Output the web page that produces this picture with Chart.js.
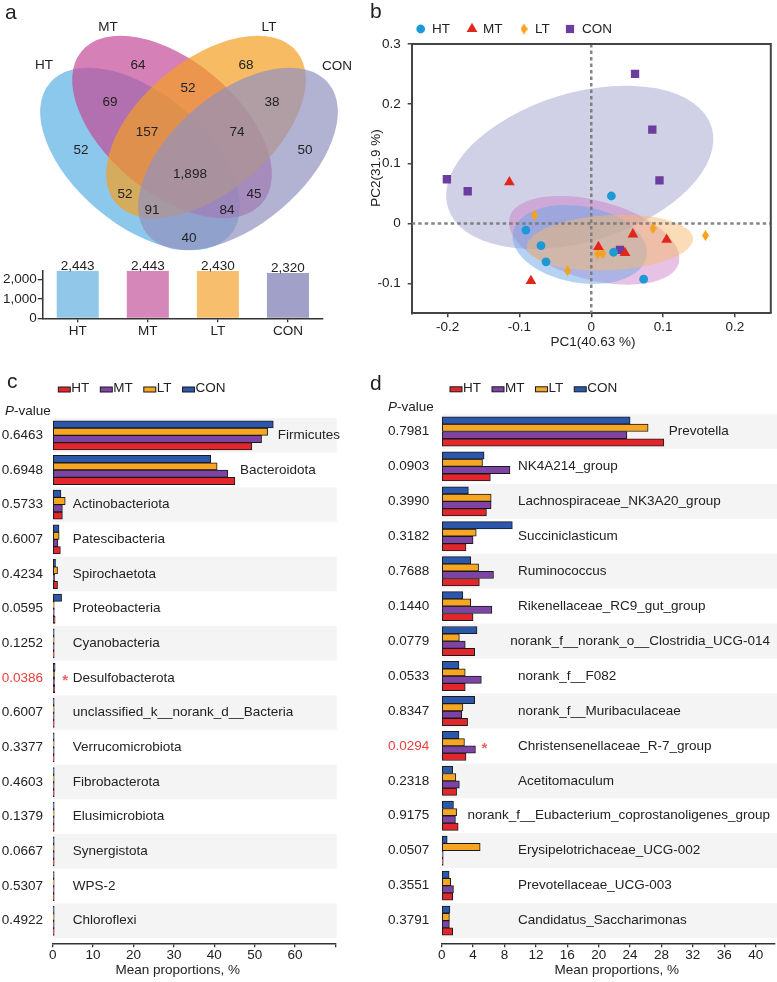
<!DOCTYPE html>
<html lang="en">
<head>
<meta charset="UTF-8">
<title>OTU Venn, PCoA and taxa comparison</title>
<script src="https://cdn.jsdelivr.net/npm/chart.js"></script>
<style>
  html, body { margin: 0; padding: 0; background: #fff; }
  body { position: relative; width: 777px; height: 982px; overflow: hidden; }
  canvas { position: absolute; }
</style>
</head>
<body>
<canvas id="vennChart" width="390" height="258" style="left:0;top:0"></canvas>
<canvas id="totalChart" width="390" height="85" style="left:0;top:255px"></canvas>
<canvas id="pcoaChart" width="412" height="355" style="left:365px;top:0"></canvas>
<canvas id="phylumChart" width="390" height="612" style="left:0;top:370px"></canvas>
<canvas id="genusChart" width="412" height="612" style="left:365px;top:370px"></canvas>

<script>
// ---- data ----
const groups = ['HT', 'MT', 'LT', 'CON'];

// a: OTU Venn regions (HT, MT, LT, CON, pairs, triples, all four)
const vennRegions = ['HT', 'MT', 'LT', 'CON', 'HT-MT', 'MT-LT', 'LT-CON', 'HT-LT', 'MT-CON', 'HT-CON',
                     'HT-MT-LT', 'MT-LT-CON', 'HT-LT-CON', 'HT-MT-CON', 'all'];
const vennCounts = [52, 64, 68, 50, 69, 52, 38, 52, 45, 40, 157, 74, 91, 84, 1898];
const otuTotals = [2443, 2443, 2430, 2320];
const otuTicks = [0, 1000, 2000];

// b: PCoA scores
const pc1HT = [0.028, -0.091, -0.070, -0.063, 0.031, 0.073];
const pc2HT = [0.046, -0.011, -0.037, -0.064, -0.048, -0.093];
const pc1MT = [-0.114, -0.084, 0.010, 0.047, 0.058, 0.105];
const pc2MT = [0.069, -0.096, -0.039, -0.049, -0.018, -0.027];
const pc1LT = [-0.079, -0.033, 0.009, 0.016, 0.086, 0.159];
const pc2LT = [0.014, -0.079, -0.051, -0.050, -0.008, -0.020];
const pc1CON = [0.061, 0.085, 0.095, -0.201, -0.172, 0.040];
const pc2CON = [0.250, 0.157, 0.072, 0.074, 0.054, -0.044];
const pc1Ticks = [-0.2, -0.1, 0, 0.1, 0.2];
const pc2Ticks = [-0.1, 0, 0.1, 0.2, 0.3];

// c: phylum level
const phyla = ['Firmicutes', 'Bacteroidota', 'Actinobacteriota', 'Patescibacteria', 'Spirochaetota',
  'Proteobacteria', 'Cyanobacteria', 'Desulfobacterota', 'unclassified_k__norank_d__Bacteria',
  'Verrucomicrobiota', 'Fibrobacterota', 'Elusimicrobiota', 'Synergistota', 'WPS-2', 'Chloroflexi'];
const phylumP = [0.6463, 0.6948, 0.5733, 0.6007, 0.4234, 0.0595, 0.1252, 0.0386, 0.6007, 0.3377,
  0.4603, 0.1379, 0.0667, 0.5307, 0.4922];
const phylumHT = [49.3, 45.1, 2.4, 1.9, 1.2, 0.6, 0.3, 0.5, 0.35, 0.2, 0.15, 0.15, 0.12, 0.1, 0.1];
const phylumMT = [51.7, 43.3, 2.4, 1.3, 0.5, 0.4, 0.35, 0.45, 0.3, 0.2, 0.15, 0.12, 0.1, 0.1, 0.1];
const phylumLT = [53.2, 40.7, 3.1, 1.6, 1.2, 0.3, 0.3, 0.5, 0.35, 0.2, 0.15, 0.15, 0.12, 0.1, 0.1];
const phylumCON = [54.6, 39.1, 2.05, 1.56, 0.7, 2.2, 0.2, 0.6, 0.3, 0.2, 0.2, 0.15, 0.1, 0.1, 0.1];
const phylumTicks = [0, 10, 20, 30, 40, 50, 60, 70];

// d: genus level
const genera = ['Prevotella', 'NK4A214_group', 'Lachnospiraceae_NK3A20_group', 'Succiniclasticum',
  'Ruminococcus', 'Rikenellaceae_RC9_gut_group', 'norank_f__norank_o__Clostridia_UCG-014',
  'norank_f__F082', 'norank_f__Muribaculaceae', 'Christensenellaceae_R-7_group', 'Acetitomaculum',
  'norank_f__Eubacterium_coprostanoligenes_group', 'Erysipelotrichaceae_UCG-002',
  'Prevotellaceae_UCG-003', 'Candidatus_Saccharimonas'];
const genusP = [0.7981, 0.0903, 0.3990, 0.3182, 0.7688, 0.1440, 0.0779, 0.0533, 0.8347, 0.0294,
  0.2318, 0.9175, 0.0507, 0.3551, 0.3791];
const genusHT = [28.3, 6.2, 5.7, 3.1, 4.8, 4.0, 4.2, 3.0, 3.3, 3.1, 1.9, 2.1, 0.08, 1.4, 1.4];
const genusMT = [23.6, 8.7, 6.3, 4.0, 6.6, 6.4, 3.0, 5.05, 2.55, 4.3, 2.25, 1.75, 0.13, 1.5, 0.98];
const genusLT = [26.3, 5.2, 6.3, 4.4, 4.7, 3.7, 2.25, 3.0, 2.7, 2.9, 1.8, 1.9, 4.9, 1.15, 0.98];
const genusCON = [24.0, 5.4, 3.4, 9.0, 3.7, 2.7, 4.5, 2.2, 4.2, 2.2, 1.4, 1.5, 0.7, 0.95, 1.05];
const genusTicks = [0, 4, 8, 12, 16, 20, 24, 28, 32, 36, 40];

// ---- layout / style ----
const FAMILY = "'Liberation Sans', Arial, Helvetica, sans-serif";
const font = (size, style) => (style ? style + ' ' : '') + size + 'px ' + FAMILY;
const TEXT = '#222';
Chart.defaults.font.family = FAMILY;
Chart.defaults.font.size = 13.5;
Chart.defaults.color = TEXT;
Chart.defaults.animation = false;
Chart.defaults.plugins.legend.display = false;
Chart.defaults.plugins.tooltip.enabled = false;

const fixedTicks = values => s => { s.ticks = values.map(v => ({ value: v })); };

// venn ellipses in panel units (1 unit = 1 px here)
const vennShapes = [
  { cx: 140, cy: 159, a: 118, b: 66, rot: 40 },
  { cx: 172, cy: 127, a: 118, b: 66, rot: 40 },
  { cx: 206, cy: 127, a: 118, b: 66, rot: -40 },
  { cx: 238, cy: 159, a: 118, b: 66, rot: -40 }
];
const vennFills = ['rgba(91,176,226,0.7)', 'rgba(195,74,152,0.7)', 'rgba(244,158,34,0.7)', 'rgba(145,145,191,0.7)'];
const vennSpots = [[81, 150], [138, 65], [246, 65], [305, 150], [110, 102], [188, 88], [272, 102],
  [125, 194], [254, 194], [189, 238], [147, 132], [237, 132], [152, 210], [227, 210], [190, 174]];
const vennNameSpots = [[44, 65], [108, 27], [269, 27], [337, 66]];
const barFills = ['#91c7e8', '#d487b8', '#f7be6d', '#a1a0c8'];

const groupColors = { HT: '#e3262b', MT: '#7d44a5', LT: '#f6a623', CON: '#2b57ac' };
const pointColors = { HT: '#1b9ad6', MT: '#e2261c', LT: '#f7a21b', CON: '#6c3d9f' };

function panelLetter(ctx, letter, x, baseline) {
  ctx.save();
  ctx.font = font(21);
  ctx.fillStyle = TEXT;
  ctx.textAlign = 'left';
  ctx.textBaseline = 'alphabetic';
  ctx.fillText(letter, x, baseline);
  ctx.restore();
}

// ---- a: venn ----
const vennPlugin = {
  id: 'venn',
  afterDraw(chart) {
    const { ctx, scales: { x, y } } = chart;
    const k = x.getPixelForValue(1) - x.getPixelForValue(0);
    ctx.save();
    vennShapes.forEach((s, i) => {
      ctx.beginPath();
      ctx.ellipse(x.getPixelForValue(s.cx), y.getPixelForValue(s.cy), s.a * k, s.b * k,
        s.rot * Math.PI / 180, 0, Math.PI * 2);
      ctx.fillStyle = vennFills[i];
      ctx.fill();
    });
    ctx.fillStyle = TEXT;
    ctx.font = font(13.5);
    ctx.textAlign = 'center';
    ctx.textBaseline = 'middle';
    vennCounts.forEach((n, i) => {
      ctx.fillText(n.toLocaleString('en-US'), x.getPixelForValue(vennSpots[i][0]), y.getPixelForValue(vennSpots[i][1]));
    });
    groups.forEach((g, i) => {
      ctx.fillText(g, x.getPixelForValue(vennNameSpots[i][0]), y.getPixelForValue(vennNameSpots[i][1]));
    });
    ctx.restore();
    panelLetter(ctx, 'a', 5, 18.5);
  }
};

new Chart(document.getElementById('vennChart'), {
  type: 'scatter',
  data: { datasets: [] },
  options: {
    responsive: false,
    layout: { padding: 0 },
    scales: {
      x: { type: 'linear', display: false, min: 0, max: 390 },
      y: { type: 'linear', display: false, min: 0, max: 258, reverse: true }
    }
  },
  plugins: [vennPlugin]
});

// ---- a: totals bar ----
const totalLabels = {
  id: 'totalLabels',
  afterDatasetsDraw(chart) {
    const { ctx } = chart;
    ctx.save();
    ctx.font = font(13.5);
    ctx.fillStyle = TEXT;
    ctx.textAlign = 'center';
    ctx.textBaseline = 'alphabetic';
    chart.getDatasetMeta(0).data.forEach((bar, i) => {
      ctx.fillText(otuTotals[i].toLocaleString('en-US'), bar.x, bar.y - 1);
    });
    ctx.restore();
  }
};

new Chart(document.getElementById('totalChart'), {
  type: 'bar',
  data: {
    labels: groups,
    datasets: [{ data: otuTotals, backgroundColor: barFills, barPercentage: 0.6, categoryPercentage: 1 }]
  },
  options: {
    responsive: false,
    layout: { padding: { top: 15.5, right: 67, left: 0, bottom: 0 } },
    scales: {
      x: {
        grid: { drawOnChartArea: false, offset: false, tickLength: 4, color: '#333', lineWidth: 1.3 },
        border: { color: '#333', width: 1.5 },
        ticks: { padding: 1, font: { size: 13.5 } },
        afterFit: s => { s.height = 21.7; }
      },
      y: {
        min: 0, max: 2450,
        grid: { drawOnChartArea: false, tickLength: 5, color: '#333', lineWidth: 1.3 },
        border: { color: '#333', width: 1.5 },
        ticks: { autoSkip: false, padding: 1, font: { size: 13.5 } },
        afterBuildTicks: fixedTicks(otuTicks),
        afterFit: s => { s.width = 42.7; }
      }
    }
  },
  plugins: [totalLabels]
});

// ---- b: PCoA ----
function diamondImage(w, h, color) {
  const c = document.createElement('canvas');
  c.width = w; c.height = h;
  const g = c.getContext('2d');
  g.fillStyle = color;
  g.beginPath();
  g.moveTo(w / 2, 0); g.lineTo(w, h / 2); g.lineTo(w / 2, h); g.lineTo(0, h / 2);
  g.closePath();
  g.fill();
  return c;
}
const diamond = diamondImage(7, 11, pointColors.LT);

const pcoaEllipses = [
  { group: 'CON', cx: -0.016, cy: 0.094, rx: 0.192, ry: 0.124, angle: -17, fill: 'rgba(150,150,200,0.45)' },
  { group: 'MT', cx: 0.004, cy: -0.028, rx: 0.122, ry: 0.066, angle: 15, fill: 'rgba(205,120,195,0.45)' },
  { group: 'HT', cx: -0.016, cy: -0.035, rx: 0.0945, ry: 0.064, angle: 10, fill: 'rgba(110,165,230,0.5)' },
  { group: 'LT', cx: 0.026, cy: -0.032, rx: 0.116, ry: 0.046, angle: -3, fill: 'rgba(245,185,110,0.5)' }
];

const pcoaDecor = {
  id: 'pcoaDecor',
  beforeDatasetsDraw(chart) {
    const { ctx, chartArea: area, scales: { x, y } } = chart;
    const kx = x.getPixelForValue(1) - x.getPixelForValue(0);
    const ky = y.getPixelForValue(0) - y.getPixelForValue(1);
    ctx.save();
    ctx.beginPath();
    ctx.rect(area.left, area.top, area.width, area.height);
    ctx.clip();
    pcoaEllipses.forEach(e => {
      ctx.beginPath();
      ctx.ellipse(x.getPixelForValue(e.cx), y.getPixelForValue(e.cy), e.rx * kx, e.ry * ky,
        e.angle * Math.PI / 180, 0, Math.PI * 2);
      ctx.fillStyle = e.fill;
      ctx.fill();
    });
    ctx.strokeStyle = 'rgba(120,120,120,0.9)';
    ctx.lineWidth = 2.5;
    ctx.setLineDash([3.5, 3]);
    const x0 = x.getPixelForValue(0), y0 = y.getPixelForValue(0);
    ctx.beginPath();
    ctx.moveTo(x0, area.top); ctx.lineTo(x0, area.bottom);
    ctx.moveTo(area.left, y0); ctx.lineTo(area.right, y0);
    ctx.stroke();
    ctx.restore();
  },
  afterDraw(chart) {
    const { ctx, chartArea: area } = chart;
    ctx.save();
    ctx.strokeStyle = '#444';
    ctx.lineWidth = 2;
    ctx.beginPath();
    ctx.moveTo(area.left, area.top); ctx.lineTo(area.right, area.top); ctx.lineTo(area.right, area.bottom);
    ctx.stroke();

    // legend
    const ly = 29;
    ctx.font = font(13.5);
    ctx.textBaseline = 'middle';
    ctx.textAlign = 'left';
    ctx.fillStyle = pointColors.HT;
    ctx.beginPath(); ctx.arc(55.7, ly, 4.4, 0, Math.PI * 2); ctx.fill();
    ctx.fillStyle = pointColors.MT;
    ctx.beginPath(); ctx.moveTo(107, ly - 6.2); ctx.lineTo(112.4, ly + 3.1); ctx.lineTo(101.6, ly + 3.1); ctx.closePath(); ctx.fill();
    ctx.drawImage(diamond, 159 - 3.5, ly - 5.5);
    ctx.fillStyle = pointColors.CON;
    ctx.fillRect(205 - 4.1, ly - 4.1, 8.2, 8.2);
    ctx.fillStyle = TEXT;
    ctx.fillText('HT', 67, ly);
    ctx.fillText('MT', 118, ly);
    ctx.fillText('LT', 170, ly);
    ctx.fillText('CON', 217, ly);

    // axis titles
    ctx.textAlign = 'center';
    ctx.fillText('PC1(40.63 %)', 228, 342);
    ctx.save();
    ctx.translate(11.7, 168);
    ctx.rotate(-Math.PI / 2);
    ctx.fillText('PC2(31.9 %)', 0, 0);
    ctx.restore();
    ctx.restore();
    panelLetter(ctx, 'b', 5, 18);
  }
};

const toPoints = (xs, ys) => xs.map((v, i) => ({ x: v, y: ys[i] }));
const tenthLabel = v => (Math.abs(v) < 1e-9 ? '0' : String(Math.round(v * 10) / 10));

new Chart(document.getElementById('pcoaChart'), {
  type: 'scatter',
  data: {
    datasets: [
      { label: 'HT', data: toPoints(pc1HT, pc2HT), pointStyle: 'circle', pointRadius: 4.4,
        backgroundColor: pointColors.HT, borderWidth: 0 },
      { label: 'MT', data: toPoints(pc1MT, pc2MT), pointStyle: 'triangle', pointRadius: 6.2,
        backgroundColor: pointColors.MT, borderWidth: 0 },
      { label: 'LT', data: toPoints(pc1LT, pc2LT), pointStyle: diamond, pointRadius: 5,
        backgroundColor: pointColors.LT, borderWidth: 0 },
      { label: 'CON', data: toPoints(pc1CON, pc2CON), pointStyle: 'rect', pointRadius: 5.9,
        backgroundColor: pointColors.CON, borderWidth: 0 }
    ]
  },
  options: {
    responsive: false,
    layout: { padding: { top: 44, right: 2, left: 0, bottom: 0 } },
    scales: {
      x: {
        type: 'linear', min: -0.25, max: 0.25,
        grid: { drawOnChartArea: false, tickLength: 4, color: '#444', lineWidth: 1.5 },
        border: { color: '#444', width: 2 },
        ticks: { autoSkip: false, padding: 2, callback: tenthLabel },
        afterBuildTicks: fixedTicks(pc1Ticks),
        afterFit: s => { s.height = 41.7; }
      },
      y: {
        type: 'linear', min: -0.15, max: 0.3,
        grid: { drawOnChartArea: false, tickLength: 4, color: '#444', lineWidth: 1.5 },
        border: { color: '#444', width: 2 },
        ticks: { autoSkip: false, padding: 7, callback: tenthLabel },
        afterBuildTicks: fixedTicks(pc2Ticks),
        afterFit: s => { s.width = 46.7; }
      }
    }
  },
  plugins: [pcoaDecor]
});

// ---- c / d: taxa bars ----
function taxaChart(canvasId, cfg) {
  const order = ['CON', 'LT', 'MT', 'HT'];
  const all = [cfg.series.HT, cfg.series.MT, cfg.series.LT, cfg.series.CON];

  const decor = {
    id: 'taxaDecor',
    beforeDatasetsDraw(chart) {
      const { ctx, chartArea: area, scales: { y } } = chart;
      ctx.save();
      ctx.fillStyle = '#f4f4f4';
      cfg.names.forEach((n, i) => {
        if (i % 2) return;
        const t = y.getPixelForValue(i - 0.5), b = y.getPixelForValue(i + 0.5);
        ctx.fillRect(area.left, t, cfg.bandRight - area.left, b - t);
      });
      ctx.restore();
    },
    afterDraw(chart) {
      const { ctx, scales: { x, y } } = chart;
      const x0 = x.getPixelForValue(0);
      ctx.save();
      ctx.textBaseline = 'middle';
      cfg.names.forEach((name, i) => {
        const cy = y.getPixelForValue(i);
        const maxPx = x.getPixelForValue(Math.max(...all.map(s => s[i])));
        const sig = cfg.pvals[i] < 0.05;
        ctx.font = font(13.5);
        ctx.textAlign = 'right';
        ctx.fillStyle = sig ? '#e8403a' : TEXT;
        ctx.fillText(cfg.pvals[i].toFixed(4), cfg.pRight, cy);
        if (sig) {
          ctx.fillStyle = '#f06060';
          ctx.textAlign = 'center';
          ctx.font = font(15, 'bold');
          ctx.fillText('*', maxPx + cfg.starGap, cy + 3);
        }
        ctx.font = font(13.5);
        ctx.textAlign = 'left';
        ctx.fillStyle = TEXT;
        const w = ctx.measureText(name).width;
        let left = Math.max(maxPx + 5, x0 + cfg.labelIndent);
        if (left + w > cfg.labelLimit) left = cfg.labelLimit - w;
        ctx.fillText(name, left, cy);
      });

      // legend
      let lx = cfg.legendX;
      ctx.font = font(13.5);
      groups.forEach(g => {
        ctx.fillStyle = groupColors[g];
        ctx.fillRect(lx, cfg.legendY - 1.5, 12, 5);
        ctx.strokeStyle = '#1a1a1a';
        ctx.lineWidth = 1;
        ctx.strokeRect(lx, cfg.legendY - 1.5, 12, 5);
        ctx.fillStyle = TEXT;
        ctx.fillText(g, lx + 13, cfg.legendY);
        lx += 13 + ctx.measureText(g).width + 11;
      });

      // P-value heading
      ctx.font = font(13.5, 'italic');
      ctx.fillText('P', cfg.pHead[0], cfg.pHead[1]);
      const pw = ctx.measureText('P').width;
      ctx.font = font(13.5);
      ctx.fillText('-value', cfg.pHead[0] + pw, cfg.pHead[1]);

      ctx.textAlign = 'center';
      ctx.fillText('Mean proportions, %', cfg.titleX, 600);
      ctx.restore();
      panelLetter(ctx, cfg.letter, cfg.letterX, cfg.letterY);
    }
  };

  return new Chart(document.getElementById(canvasId), {
    type: 'bar',
    data: {
      datasets: order.map(g => ({
        label: g,
        data: cfg.series[g].map((v, i) => ({ x: v, y: i })),
        backgroundColor: groupColors[g],
        borderColor: '#1a1a1a',
        borderWidth: 1,
        borderSkipped: false,
        barThickness: 7.3,
        minBarLength: 1.5
      }))
    },
    options: {
      responsive: false,
      indexAxis: 'y',
      layout: { padding: cfg.padding },
      scales: {
        y: { type: 'linear', display: false, reverse: true, offset: false, grid: { offset: false },
             min: -0.5, max: 14.65 },
        x: {
          type: 'linear', min: 0, max: cfg.xMax,
          grid: { drawOnChartArea: false, tickLength: 4, color: '#333', lineWidth: 1.3 },
          border: { color: '#333', width: 1.5 },
          ticks: { autoSkip: false, padding: 0, callback: cfg.tickLabel },
          afterBuildTicks: fixedTicks(cfg.ticks),
          afterFit: s => { s.height = 38.7; }
        }
      }
    },
    plugins: [decor]
  });
}

taxaChart('phylumChart', {
  names: phyla, pvals: phylumP,
  series: { HT: phylumHT, MT: phylumMT, LT: phylumLT, CON: phylumCON },
  xMax: 70, ticks: phylumTicks, tickLabel: v => (v >= 70 ? '' : v),
  padding: { left: 52.7, right: 54.5, top: 48, bottom: 0 },
  bandRight: 336.7, labelIndent: 20, labelLimit: 340, starGap: 10,
  pRight: 43, pHead: [5, 41.7], legendX: 58.3, legendY: 18.5,
  titleX: 177.7, letter: 'c', letterX: 7, letterY: 18.3
});

taxaChart('genusChart', {
  names: genera, pvals: genusP,
  series: { HT: genusHT, MT: genusMT, LT: genusLT, CON: genusCON },
  xMax: 42.4, ticks: genusTicks, tickLabel: v => v,
  padding: { left: 76.7, right: 2.5, top: 44, bottom: 0 },
  bandRight: 412, labelIndent: 76.3, labelLimit: 405, starGap: 9,
  pRight: 64.3, pHead: [23, 37.3], legendX: 85, legendY: 18.3,
  titleX: 251.7, letter: 'd', letterX: 5, letterY: 20
});
</script>
</body>
</html>
